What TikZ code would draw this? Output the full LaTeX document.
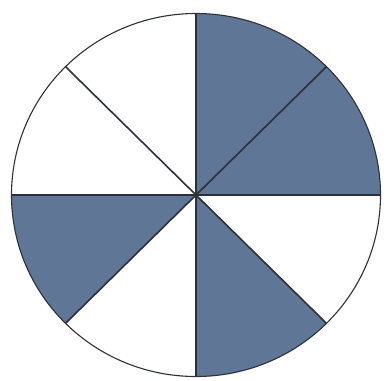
\documentclass[tikz,border=0pt]{standalone}
\usetikzlibrary{calc}
\definecolor{slate}{RGB}{96,118,150}
\definecolor{inkline}{RGB}{45,48,55}

\begin{document}
\begin{tikzpicture}[
  x=1pt,y=1pt,
  shaded/.style={fill=slate,draw=none},
  rim/.style={draw=inkline,line width=1.1pt},
  spoke/.style={draw=inkline,line width=1.6pt}]
  \useasboundingbox (0,-380) rectangle (387,0);
  \coordinate(O) at(196,-195);
  \foreach \a in {0,45,...,315}
    \coordinate(p\a) at ($(O)+(\a:184.5 and 181.5)$);
  % shaded sectors
  \fill[shaded](O)--(p0) arc[start angle=0,end angle=90,x radius=184.5,y radius=181.5]--cycle;
  \fill[shaded](O)--(p180) arc[start angle=180,end angle=225,x radius=184.5,y radius=181.5]--cycle;
  \fill[shaded](O)--(p270) arc[start angle=270,end angle=315,x radius=184.5,y radius=181.5]--cycle;
  % spokes and rim
  \draw[spoke](p0)--(p180);\draw[spoke](p45)--(p225);
  \draw[spoke](p90)--(p270);\draw[spoke](p135)--(p315);
  \draw[rim](O) ellipse[x radius=184.5,y radius=181.5];
\end{tikzpicture}
\end{document}
